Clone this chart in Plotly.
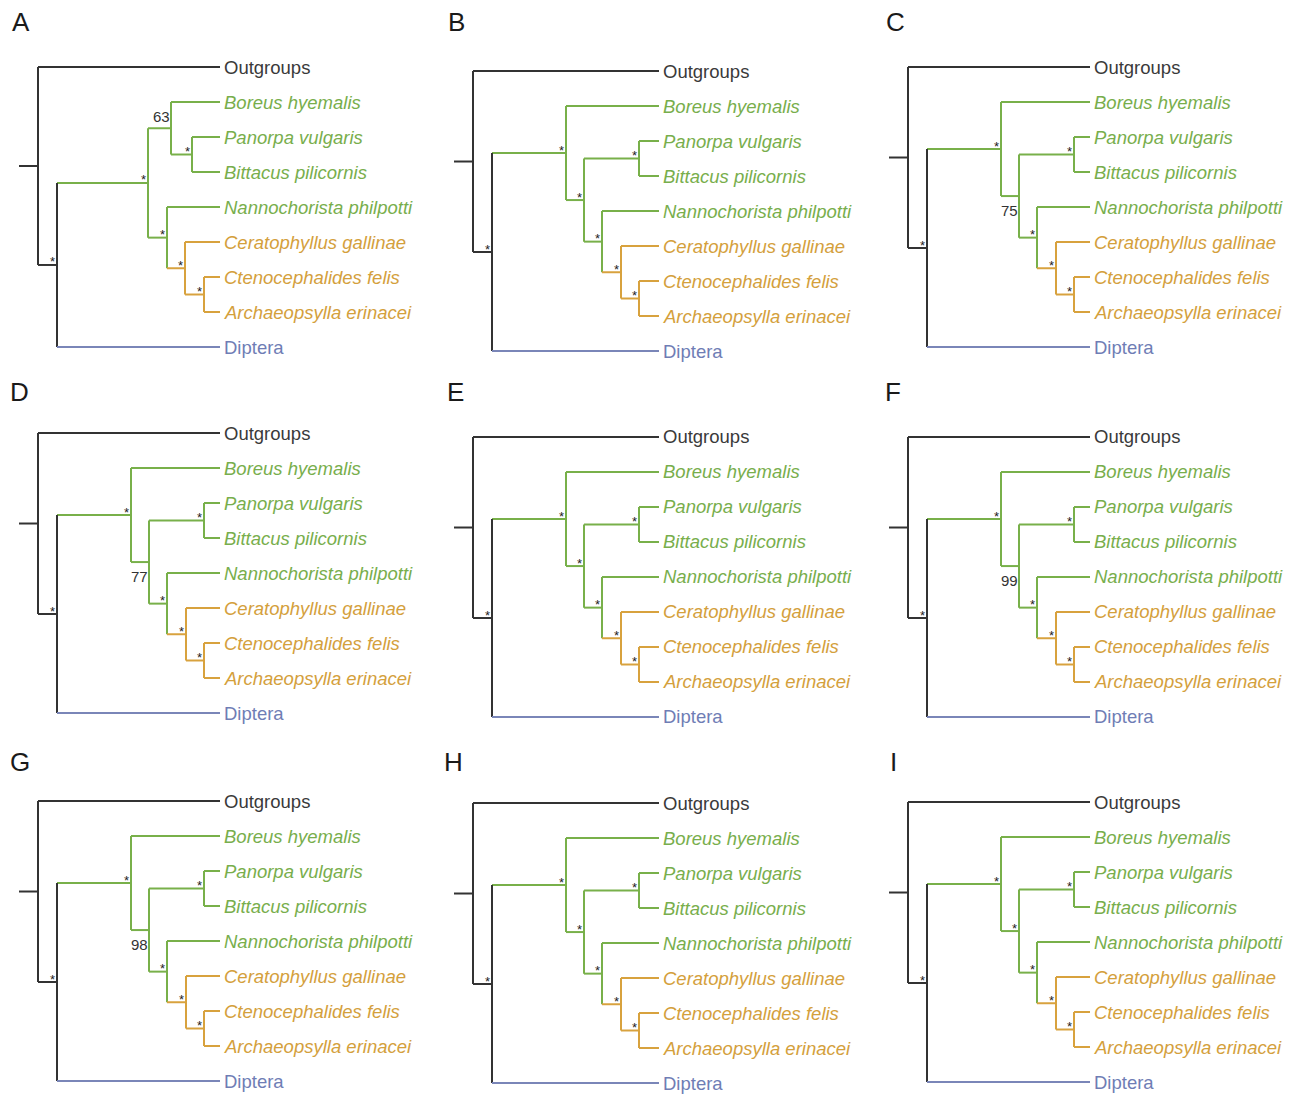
import plotly.graph_objects as go

# the page body has an 8px margin, so the figure is drawn 8px in from the top-left
PAGE_MARGIN = 8
W, H = 1298 - PAGE_MARGIN, 1095 - PAGE_MARGIN

# ---------------- data ----------------
TAXA = ["Outgroups", "Boreus hyemalis", "Panorpa vulgaris", "Bittacus pilicornis",
        "Nannochorista philpotti", "Ceratophyllus gallinae", "Ctenocephalides felis",
        "Archaeopsylla erinacei", "Diptera"]
TAXON_GROUP = ["out", "meco", "meco", "meco", "meco", "flea", "flea", "flea", "dip"]
TAXON_ITALIC = [False, True, True, True, True, True, True, True, False]

GROUP_LINE_COLOR = {"out": "#333333", "meco": "#78b04a", "flea": "#d8a23e", "dip": "#7a86b8"}
GROUP_TEXT_COLOR = {"out": "#3a3a3a", "meco": "#78ae4c", "flea": "#d4a03c", "dip": "#6f7db5"}

PANEL_LETTERS = ["A", "B", "C", "D", "E", "F", "G", "H", "I"]
PANEL_LETTER_X = [21, 456, 895, 19, 455, 893, 20, 453, 893]
PANEL_LETTER_Y = [22, 22, 22, 392, 392, 392, 762, 762, 762]
PANEL_ROOT_X = [38, 473, 908, 38, 473, 908, 38, 473, 908]
PANEL_TOP_Y = [67, 71, 67, 433, 437, 437, 801, 803, 802]
PANEL_TOPOLOGY = ["A", "B", "B", "B", "B", "B", "B", "B", "B"]
PANEL_LEAF_DEPTH = [182, 186, 182, 182, 186, 182, 182, 186, 182]
LEAF_SPACING = 35
ROOT_STUB = -19

# leaves referenced by index into TAXA
TOPOLOGY = {
    "A": ("root", [0, ("ingroup", [("meco", [("n2", [1, ("pb", [2, 3])]),
                                              ("nanno", [4, ("flea", [5, ("ca", [6, 7])])])]), 8])]),
    "B": ("root", [0, ("ingroup", [("meco", [1, ("n2", [("pb", [2, 3]),
                                                        ("nanno", [4, ("flea", [5, ("ca", [6, 7])])])])]), 8])]),
}
NODE_DEPTH = {
    "A": {"root": 0, "ingroup": 19, "meco": 110, "n2": 133, "pb": 154, "nanno": 129, "flea": 147, "ca": 166},
    "B": {"root": 0, "ingroup": 19, "meco": 93, "n2": 111, "pb": 166, "nanno": 129, "flea": 148, "ca": 166},
}
# support values that are not "*"
SUPPORT_NODE = ["n2", None, "n2", "n2", None, "n2", "n2", None, None]
SUPPORT_VALUE = ["63", None, "75", "77", None, "99", "98", None, None]
SUPPORT_ABOVE = [True, None, False, False, None, False, False, None, None]

FONT = "Liberation Sans, Arial, sans-serif"


def clade_group(leaves):
    g = set(TAXON_GROUP[i] for i in leaves)
    if g == {"flea"}:
        return "flea"
    if g <= {"meco", "flea"}:
        return "meco"
    if g == {"dip"}:
        return "dip"
    return "out"


def walk(node, depths, leaf_depth, segs, nodes):
    if isinstance(node, int):
        return leaf_depth, float(node), [node]
    name, children = node
    info = [walk(c, depths, leaf_depth, segs, nodes) for c in children]
    x = depths[name]
    y = (info[0][1] + info[-1][1]) / 2
    leaves = [l for inf in info for l in inf[2]]
    grp = clade_group(leaves)
    segs.setdefault(grp, []).append(([x, x], [info[0][1], info[-1][1]]))
    for cx, cy, cl in info:
        segs.setdefault(clade_group(cl), []).append(([x, cx], [cy, cy]))
    nodes.append((name, x, y))
    return x, y, leaves


fig = go.Figure()
annotations = []
layout_axes = {}

for p, letter in enumerate(PANEL_LETTERS):
    xa = "x" if p == 0 else f"x{p + 1}"
    ya = "y" if p == 0 else f"y{p + 1}"
    xkey = "xaxis" if p == 0 else f"xaxis{p + 1}"
    ykey = "yaxis" if p == 0 else f"yaxis{p + 1}"
    rx = PANEL_ROOT_X[p] - PAGE_MARGIN
    ty = PANEL_TOP_Y[p] - PAGE_MARGIN
    x_lo, x_hi = -25, 380
    y_lo, y_hi = -55, 288
    layout_axes[xkey] = dict(domain=[(rx + x_lo) / W, (rx + x_hi) / W], range=[x_lo, x_hi],
                             visible=False, anchor=ya, fixedrange=True)
    layout_axes[ykey] = dict(domain=[1 - (ty + y_hi) / H, 1 - (ty + y_lo) / H],
                             range=[y_hi / LEAF_SPACING, y_lo / LEAF_SPACING],
                             visible=False, anchor=xa, fixedrange=True)

    topo = PANEL_TOPOLOGY[p]
    segs, nodes = {}, []
    leaf_depth = PANEL_LEAF_DEPTH[p]
    _, root_y, _ = walk(TOPOLOGY[topo], NODE_DEPTH[topo], leaf_depth, segs, nodes)
    segs.setdefault("out", []).append(([ROOT_STUB, 0], [root_y, root_y]))

    for grp, lst in segs.items():
        xs, ys = [], []
        for sx, sy in lst:
            xs += sx + [None]
            ys += sy + [None]
        fig.add_trace(go.Scatter(x=xs, y=ys, mode="lines", xaxis=xa, yaxis=ya,
                                 line=dict(color=GROUP_LINE_COLOR[grp], width=2),
                                 hoverinfo="skip", showlegend=False))

    # leaf labels
    for i, name in enumerate(TAXA):
        txt = f"<i>{name}</i>" if TAXON_ITALIC[i] else name
        annotations.append(dict(x=leaf_depth + 2, y=i, xref=xa, yref=ya, text=txt,
                                showarrow=False, xanchor="left", yanchor="middle",
                                font=dict(family=FONT, size=18.5, color=GROUP_TEXT_COLOR[TAXON_GROUP[i]])))

    # support labels
    for name, nx, ny in nodes:
        if name == "root":
            continue
        if SUPPORT_NODE[p] == name:
            dy = -12 if SUPPORT_ABOVE[p] else 14
            annotations.append(dict(x=nx - 10, y=ny + dy / LEAF_SPACING, xref=xa, yref=ya,
                                    text=SUPPORT_VALUE[p], showarrow=False,
                                    xanchor="center", yanchor="middle",
                                    font=dict(family=FONT, size=15, color="#333333")))
        else:
            annotations.append(dict(x=nx - 5, y=ny - 3 / LEAF_SPACING, xref=xa, yref=ya,
                                    text="*", showarrow=False,
                                    xanchor="center", yanchor="middle",
                                    font=dict(family=FONT, size=13, color="#222222")))

    # panel letter
    annotations.append(dict(x=(PANEL_LETTER_X[p] - PANEL_ROOT_X[p]),
                            y=(PANEL_LETTER_Y[p] - PANEL_TOP_Y[p]) / LEAF_SPACING,
                            xref=xa, yref=ya, text=letter,
                            showarrow=False, xanchor="center", yanchor="middle",
                            font=dict(family=FONT, size=26, color="#1a1a1a")))

fig.update_layout(width=W, height=H, margin=dict(l=0, r=0, t=0, b=0),
                  paper_bgcolor="white", plot_bgcolor="white",
                  annotations=annotations, showlegend=False, **layout_axes)

fig.write_html("out.html")
